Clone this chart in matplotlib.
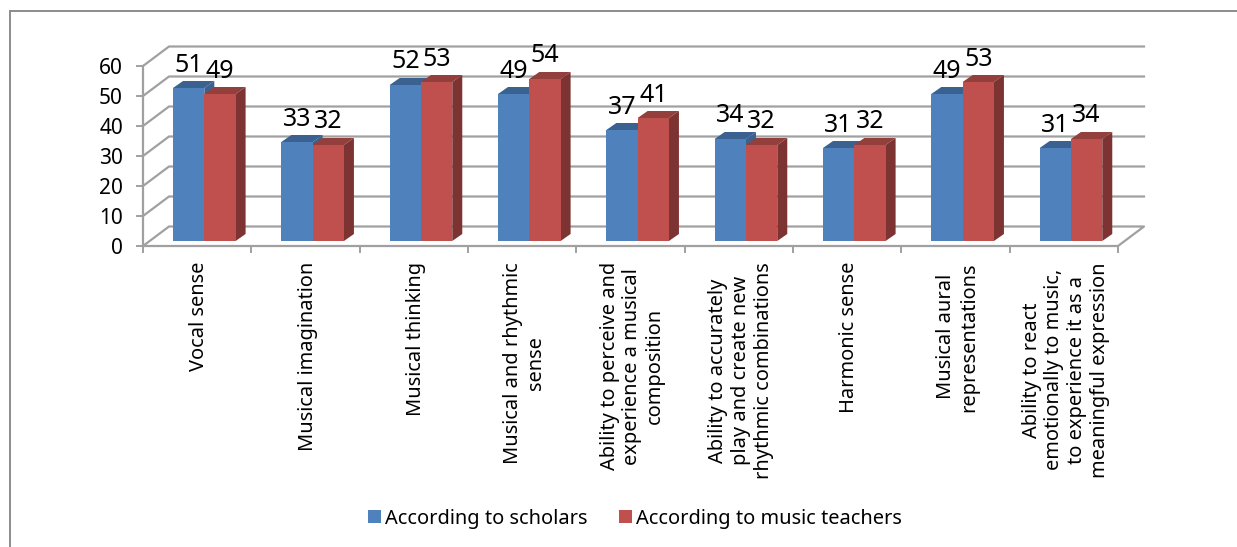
import matplotlib
matplotlib.use("Agg")
import matplotlib.pyplot as plt
from matplotlib.patches import Polygon, Rectangle

categories = ["Vocal sense", "Musical imagination", "Musical thinking",
              "Musical and rhythmic\nsense",
              "Ability to perceive and\nexperience a musical\ncomposition",
              "Ability to accurately\nplay and create new\nrhythmic combinations",
              "Harmonic sense", "Musical aural\nrepresentations",
              "Ability to react\nemotionally to music,\nto experience it as a\nmeaningful expression"]
scholars = [51, 33, 52, 49, 37, 34, 31, 49, 31]
teachers = [49, 32, 53, 54, 41, 32, 32, 53, 34]
yticks = [0, 10, 20, 30, 40, 50, 60]
series_names = ["According to scholars", "According to music teachers"]

W, H = 1237, 547
plt.rcParams['font.family'] = ['Noto Sans', 'DejaVu Sans']
GRID = "#a0a0a0"
BLUE, BLUE_TOP, = "#4f81bd", "#3a6190"
RED, RED_TOP, RED_SIDE = "#c0504d", "#93403d", "#7d3331"

fig = plt.figure(figsize=(W / 100, H / 100), dpi=100)
# front plane of the chart box
left, right, bottom, top = 143, 1118, 246, 66
ax = fig.add_axes([left / W, 1 - bottom / H, (right - left) / W, (bottom - top) / H])
ax.set_xlim(0, 9)
ax.set_ylim(0, 60)
ax.axis("off")

px = 9 / (right - left)
py = 60 / (bottom - top)
wall_dx, wall_dy = 26 * px, 19.5 * py
base = 5 * py  # bars sit a bit behind the front edge
bar_w = 31.3 * px
bar_dx, bar_dy = 10 * px, 7 * py
start = 30 * px

# back wall and side wall grid
for v in yticks:
    if v > 0:
        ax.plot([0, wall_dx, 9 + wall_dx], [v, v + wall_dy, v + wall_dy], color=GRID, lw=1.6, clip_on=False)
    else:
        ax.plot([0, wall_dx, 9 + wall_dx, 9, 0], [0, wall_dy, wall_dy, 0, 0], color=GRID, lw=1.6, clip_on=False)
    ax.plot([-6 * px, 0], [v, v], color=GRID, lw=1.4, clip_on=False)
    ax.text(-20 * px, v - 2.5 * py, str(v), ha="right", va="center", fontsize=15, color="black")
ax.plot([0, 0], [0, 60], color=GRID, lw=1.6, clip_on=False)

# category ticks and labels
for i, name in enumerate(categories):
    ax.plot([i, i], [0, -6 * py], color=GRID, lw=1.4, clip_on=False)
    ax.text(i + 0.5 + 2 * px, -16 * py, name, rotation=90, ha="center", va="top", multialignment="center",
            fontsize=14.4, linespacing=1.18, clip_on=False)
ax.plot([9, 9], [0, -6 * py], color=GRID, lw=1.4, clip_on=False)


def bar3d(x0, v, front, top_col, side_col):
    y0, y1 = base, v + base
    ax.add_patch(Polygon([(x0, y1), (x0 + bar_dx, y1 + bar_dy), (x0 + bar_w + bar_dx, y1 + bar_dy), (x0 + bar_w, y1)],
                         fc=top_col, ec="none", clip_on=False, zorder=3))
    ax.add_patch(Polygon([(x0 + bar_w, y0), (x0 + bar_w + bar_dx, y0 + bar_dy), (x0 + bar_w + bar_dx, y1 + bar_dy), (x0 + bar_w, y1)],
                         fc=side_col, ec="none", clip_on=False, zorder=3))
    ax.add_patch(Rectangle((x0, y0), bar_w, v, fc=front, ec="none", clip_on=False, zorder=4))
    ax.text(x0 + bar_w / 2, y1 + 23 * py, str(v), ha="center", va="center", fontsize=18, zorder=5, clip_on=False)


for i in range(len(categories)):
    x0 = i + start
    bar3d(x0, scholars[i], BLUE, BLUE_TOP, BLUE_TOP)
    bar3d(x0 + bar_w, teachers[i], RED, RED_TOP, RED_SIDE)

# legend
leg = fig.legend(handles=[Rectangle((0, 0), 1, 1, fc=BLUE), Rectangle((0, 0), 1, 1, fc=RED)], labels=series_names,
                 loc="center", bbox_to_anchor=(635 / W, 1 - 519 / H), ncol=2, frameon=False, fontsize=14.4,
                 handlelength=0.62, handleheight=0.62, handletextpad=0.2, columnspacing=1.6)

# chart frame
fig.add_artist(plt.Line2D([10 / W, 10 / W], [0, 1 - 11 / H], color="#8c8c8c", lw=1.4))
fig.add_artist(plt.Line2D([10 / W, 1], [1 - 11 / H, 1 - 11 / H], color="#8c8c8c", lw=1.4))

fig.savefig("out.png", dpi=100)
